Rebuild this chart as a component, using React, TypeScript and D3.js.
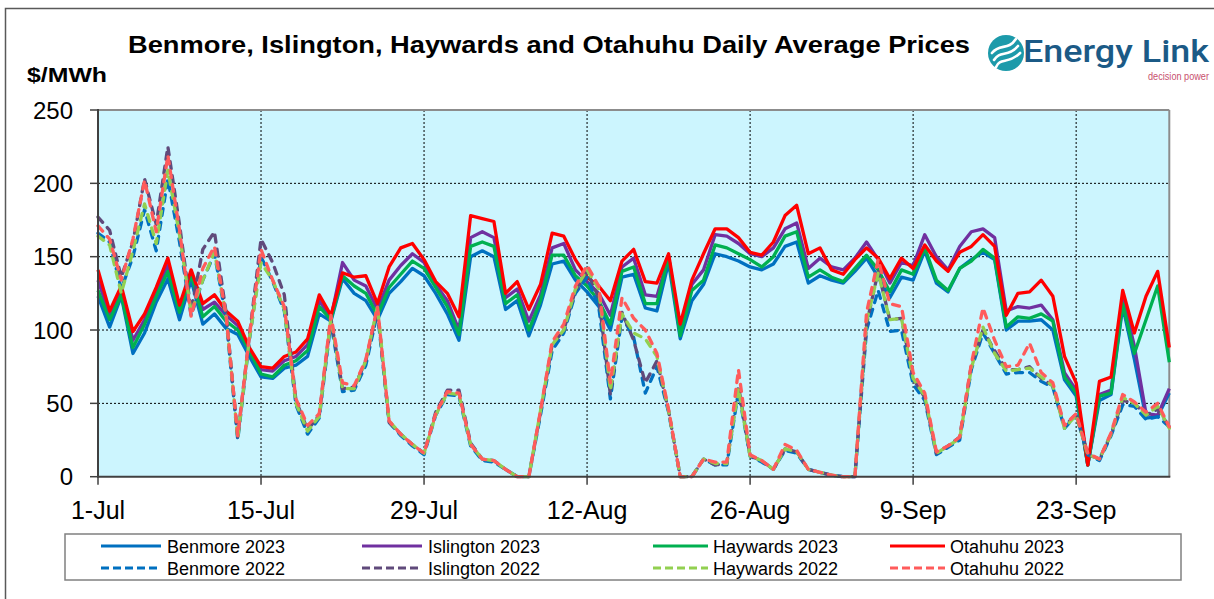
import React from "react";
import * as d3 from "d3";

const startDate = new Date(2023, 6, 1);
const dayCount = 93;
const dates = d3.timeDay.range(startDate, d3.timeDay.offset(startDate, dayCount));

const tickLabels = ["1-Jul", "15-Jul", "29-Jul", "12-Aug", "26-Aug", "9-Sep", "23-Sep"];
const tickDates = [0, 14, 28, 42, 56, 70, 84].map((d) => d3.timeDay.offset(startDate, d));
const yTicks = [0, 50, 100, 150, 200, 250];

const benmore2023 = [123,102,123,84,98,119,135,107,134,104,111,101,97,82,68,67,74,76,82,111,106,135,125,120,107,125,133,142,137,125,111,93,150,154,150,114,120,96,117,145,147,134,126,116,100,136,138,115,113,146,94,120,131,152,150,147,143,141,145,157,160,132,137,134,132,140,149,136,122,136,134,154,132,126,142,148,153,148,100,106,106,107,100,66,55,8,52,56,116,80,40,41,57];
const islington2023 = [134,110,127,93,107,126,145,114,139,114,119,110,103,87,73,72,79,82,90,120,108,146,134,130,114,134,144,152,146,131,120,100,163,167,163,122,128,106,124,156,159,141,133,125,110,143,149,124,123,150,100,131,141,165,164,159,152,150,156,169,173,142,149,143,141,149,160,148,132,146,144,165,150,141,157,167,169,163,113,116,115,117,107,71,59,8,56,59,123,89,43,42,60];
const haywards2023 = [127,107,124,88,104,123,140,112,138,109,116,106,100,86,70,68,76,79,86,116,107,137,130,125,110,129,138,147,142,129,116,97,157,160,157,118,124,100,120,151,151,137,130,120,104,140,143,118,118,150,96,127,134,158,156,152,148,143,150,164,167,136,141,136,133,142,151,141,126,141,138,156,134,127,142,147,155,149,102,109,108,111,106,68,57,8,55,57,118,84,107,130,78];
const otahuhu2023 = [141,113,130,99,111,129,149,117,141,118,124,113,106,88,75,74,82,85,94,124,110,139,136,137,118,143,156,159,148,133,125,109,178,176,174,125,133,114,131,166,164,148,136,130,120,147,155,133,132,152,104,134,152,169,169,163,153,151,160,178,185,152,156,141,138,148,156,149,135,149,142,158,147,140,153,157,165,157,110,125,126,134,123,82,64,8,65,68,127,98,123,140,88];

const benmore2022 = [166,160,128,150,182,154,203,160,110,134,152,108,25,93,150,133,113,49,29,40,105,58,59,76,112,37,28,21,15,42,56,55,21,11,10,5,0,0,42,86,98,125,136,116,53,109,95,57,75,44,0,0,12,8,8,58,14,10,5,18,16,5,3,1,0,0,100,127,99,100,63,52,15,20,25,73,98,84,70,71,71,65,61,33,42,15,11,28,49,48,39,41,34];
const islington2022 = [177,168,136,160,203,172,225,172,113,155,167,112,27,96,162,146,124,52,32,42,108,60,61,79,114,37,29,22,16,44,59,59,23,12,11,5,0,0,44,90,100,127,140,122,56,112,93,64,79,45,0,0,12,8,9,62,14,11,5,19,17,5,3,1,0,0,104,140,107,108,67,54,16,21,27,76,100,86,73,73,75,67,62,34,43,15,12,29,52,50,42,46,34];
const haywards2022 = [164,158,125,154,186,159,209,165,112,134,153,110,26,94,146,134,114,50,31,41,108,60,60,79,116,38,29,22,16,42,57,56,22,12,11,5,0,0,45,90,100,128,141,128,59,111,98,94,82,45,0,0,12,9,9,60,14,11,5,19,17,5,3,1,0,0,106,139,107,108,67,55,16,21,26,74,102,84,72,73,74,68,62,33,42,15,12,29,54,50,42,48,33];
const otahuhu2022 = [171,162,134,162,202,167,219,168,109,142,157,110,28,96,155,134,116,53,35,43,110,64,62,80,116,38,29,22,16,43,58,57,22,12,11,5,0,0,45,92,104,130,144,130,64,122,108,100,84,46,0,0,12,10,10,73,15,11,5,22,18,5,3,1,0,0,112,148,118,116,71,57,17,21,27,77,115,93,75,76,91,71,64,35,43,16,12,30,56,51,44,50,34];

const seriesNames = ["Benmore 2023", "Islington 2023", "Haywards 2023", "Otahuhu 2023", "Benmore 2022", "Islington 2022", "Haywards 2022", "Otahuhu 2022"];
const seriesValues = [benmore2023, islington2023, haywards2023, otahuhu2023, benmore2022, islington2022, haywards2022, otahuhu2022];
const seriesColors = ["#0070C0", "#7030A0", "#00B050", "#FF0000", "#0070C0", "#604A7B", "#92D050", "#FF5B5B"];
const seriesDashed = [false, false, false, false, true, true, true, true];

const W = 1214, H = 599;
const L = 98, R = 1169.3, T = 110, B = 476.7;
const font = "Arial, 'Liberation Sans', sans-serif";

export default function App() {
  const x = d3.scaleTime().domain([startDate, d3.timeDay.offset(startDate, 92)]).range([L, R]);
  const y = d3.scaleLinear().domain([0, 250]).range([B, T]);
  const line = d3.line<[Date, number]>().x((d) => x(d[0])).y((d) => y(d[1]));

  const legendCols = [
    { lx: 101, tx: 167, len: 60 },
    { lx: 362, tx: 428, len: 60 },
    { lx: 653, tx: 713, len: 55 },
    { lx: 890, tx: 950, len: 55 },
  ];

  return (
    <svg width={W} height={H} style={{ position: "absolute", left: 0, top: 0, background: "#fff" }} fontFamily={font}>
      <rect x={5.5} y={8.5} width={1240} height={620} fill="#fff" stroke="#595959" strokeWidth={1.5} />
      <text x={128} y={53} fontSize={23.5} fontWeight="bold" textLength={842} lengthAdjust="spacingAndGlyphs">
        Benmore, Islington, Haywards and Otahuhu Daily Average Prices
      </text>
      <text x={27} y={82} fontSize={20} fontWeight="bold" textLength={80} lengthAdjust="spacingAndGlyphs">$/MWh</text>

      {/* logo */}
      <g>
        <circle cx={1006} cy={53} r={18} fill="#1C9AAA" />
        {[-7, 0, 7].map((o, i) => (
          <path key={i} d={`M ${994 + o * 0.3} ${60 + o} C ${1000} ${50 + o}, ${1008} ${58 + o}, ${1018 + o * 0.3} ${46 + o}`} fill="none" stroke="#fff" strokeWidth={2.6} strokeLinecap="round" />
        ))}
        <text x={1023} y={62} fontSize={32} fontWeight={500} fontFamily="Roboto, Arial, sans-serif" fill="#1B5A86" textLength={186} lengthAdjust="spacingAndGlyphs">Energy Link</text>
        <text x={1148} y={80} fontSize={10} fill="#C8506E" textLength={61} lengthAdjust="spacingAndGlyphs">decision power</text>
      </g>

      {/* plot area */}
      <rect x={L} y={T} width={R - L} height={B - T} fill="#CCF5FE" />
      {yTicks.filter((v) => v > 0 && v < 250).map((v) => (
        <line key={"hg" + v} x1={L} x2={R} y1={y(v)} y2={y(v)} stroke="#000" strokeWidth={1} strokeDasharray="2,2" />
      ))}
      {tickDates.slice(1).map((d, i) => (
        <line key={"vg" + i} x1={x(d)} x2={x(d)} y1={T} y2={B} stroke="#000" strokeWidth={1} strokeDasharray="2,2" />
      ))}
      <line x1={L} x2={R} y1={T} y2={T} stroke="#8C8C8C" strokeWidth={2} />
      <line x1={R} x2={R} y1={T} y2={B} stroke="#8C8C8C" strokeWidth={2} />

      {seriesValues.map((vals, si) => (
        <path
          key={seriesNames[si]}
          d={line(vals.map((v, i) => [dates[i], v] as [Date, number])) || ""}
          fill="none"
          stroke={seriesColors[si]}
          strokeWidth={3.3}
          strokeLinejoin="round"
          strokeLinecap={seriesDashed[si] ? "round" : "butt"}
          strokeDasharray={seriesDashed[si] ? "7,7" : undefined}
        />
      ))}

      {/* axes */}
      <line x1={L} x2={L} y1={T - 1} y2={B + 1} stroke="#404040" strokeWidth={2} />
      <line x1={L - 1} x2={R + 1} y1={B} y2={B} stroke="#404040" strokeWidth={2} />
      {yTicks.map((v) => (
        <g key={"yt" + v}>
          <line x1={L - 8} x2={L} y1={y(v)} y2={y(v)} stroke="#404040" strokeWidth={1.5} />
          <text x={73} y={y(v) + 8.5} fontSize={24} textAnchor="end">{v}</text>
        </g>
      ))}
      {tickDates.map((d, i) => (
        <g key={"xt" + i}>
          <line x1={x(d)} x2={x(d)} y1={B} y2={B + 8} stroke="#404040" strokeWidth={1.5} />
          <text x={x(d)} y={519} fontSize={25} textAnchor="middle">{tickLabels[i]}</text>
        </g>
      ))}

      {/* legend */}
      <rect x={65} y={534} width={1116} height={46} fill="#fff" stroke="#808080" strokeWidth={1.5} />
      {seriesNames.map((name, si) => {
        const col = legendCols[si % 4];
        const row = Math.floor(si / 4);
        const ly = 546 + row * 22;
        return (
          <g key={"lg" + si}>
            <line x1={col.lx} x2={col.lx + col.len} y1={ly} y2={ly} stroke={seriesColors[si]} strokeWidth={3} strokeDasharray={seriesDashed[si] ? "8,4" : undefined} />
            <text x={col.tx} y={ly + 6.5} fontSize={18}>{name}</text>
          </g>
        );
      })}
    </svg>
  );
}
